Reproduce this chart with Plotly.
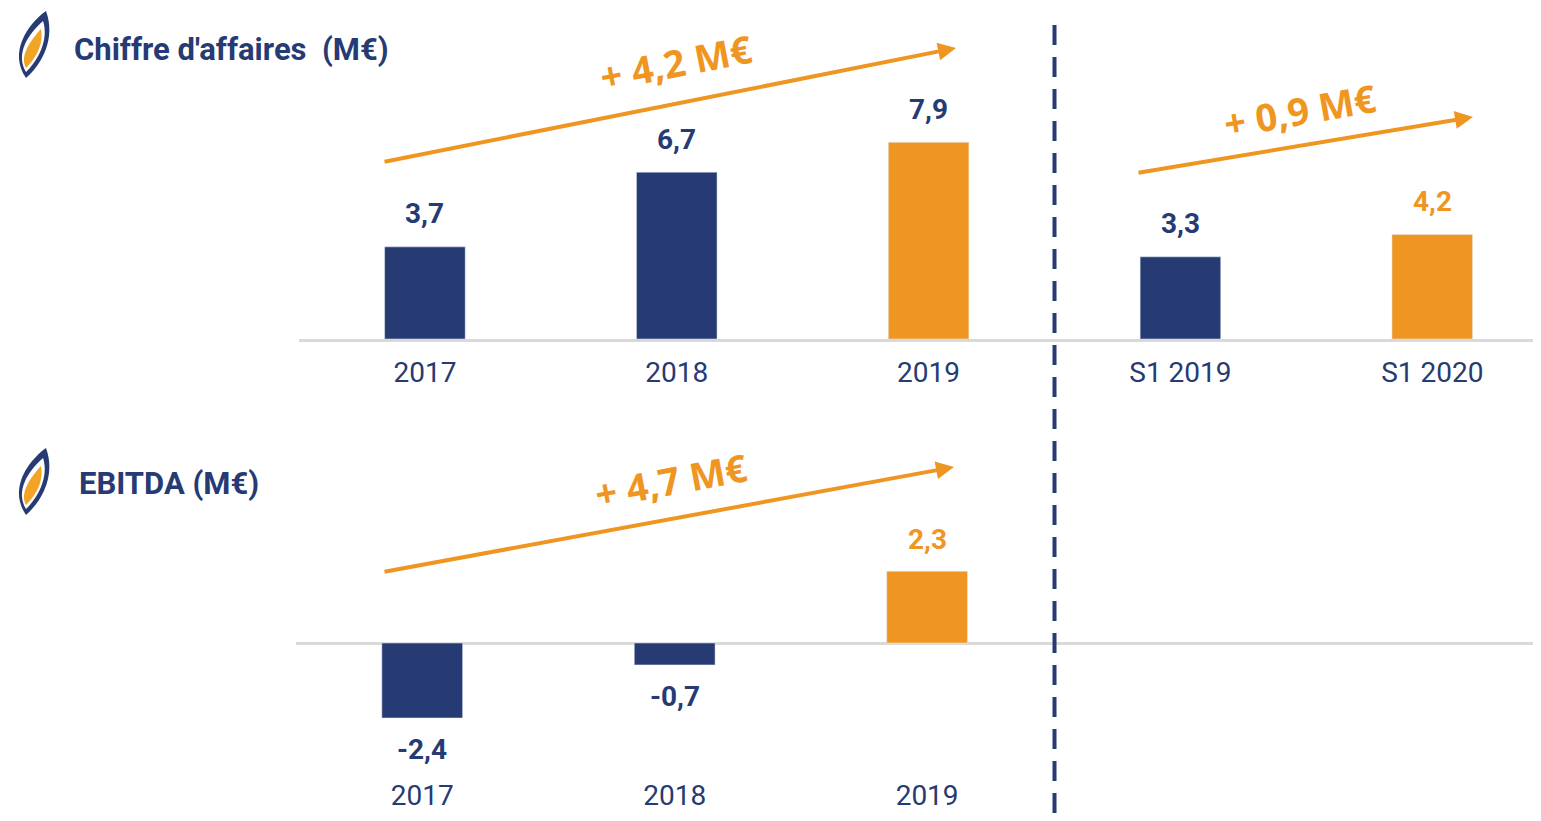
import plotly.graph_objects as go

# data
ca_categories = ['2017', '2018', '2019', 'S1 2019', 'S1 2020']
ca_values = [3.7, 6.7, 7.9, 3.3, 4.2]
ca_labels = ['3,7', '6,7', '7,9', '3,3', '4,2']

ebitda_categories = ['2017', '2018', '2019']
ebitda_values = [-2.4, -0.7, 2.3]
ebitda_labels = ['-2,4', '-0,7', '2,3']

NAVY = '#263A73'
ORANGE = '#EF9622'

# the page body has an 8px margin, so the figure is a bit smaller than the window
# (nothing may stick out below it, or the page grows)
OFF = 8
W, H = 1541 - 2 * OFF, 821 - 2 * OFF

ca_bar_colors = [NAVY, NAVY, ORANGE, NAVY, ORANGE]
ca_label_colors = [NAVY, NAVY, NAVY, NAVY, ORANGE]
ebitda_bar_colors = [NAVY, NAVY, ORANGE]
ebitda_label_colors = [NAVY, NAVY, ORANGE]


def px_x(x):
    return (x - OFF) / W


def px_y(y):
    return 1 - (y - OFF) / H


fig = go.Figure()

fig.add_trace(go.Bar(
    x=ca_categories, y=ca_values, marker_color=ca_bar_colors,
    width=0.32, xaxis='x', yaxis='y', hoverinfo='skip',
))
fig.add_trace(go.Bar(
    x=ebitda_categories, y=ebitda_values, marker_color=ebitda_bar_colors,
    width=0.32, xaxis='x2', yaxis='y2', hoverinfo='skip',
))

label_font = dict(family='Roboto', size=28, weight='bold')

annotations = []
# category positions are given as indexes: '2017' would be read as a number
for i, (val, lab, col) in enumerate(zip(ca_values, ca_labels, ca_label_colors)):
    annotations.append(dict(
        x=i, y=val, xref='x', yref='y', text=lab, showarrow=False,
        xanchor='center', yanchor='middle', yshift=33,
        font=dict(label_font, color=col),
    ))
for i, (val, lab, col) in enumerate(zip(ebitda_values, ebitda_labels, ebitda_label_colors)):
    annotations.append(dict(
        x=i, y=val, xref='x2', yref='y2', text=lab, showarrow=False,
        xanchor='center', yanchor='middle',
        yshift=32 if val > 0 else -32,
        font=dict(label_font, color=col),
    ))

# titles
annotations.append(dict(
    x=px_x(72), y=px_y(49), xref='paper', yref='paper',
    xanchor='left', yanchor='middle',
    text="Chiffre d'affaires&nbsp; (M€)", showarrow=False,
    font=dict(family='Roboto', size=31, color=NAVY, weight='bold'),
))
annotations.append(dict(
    x=px_x(77), y=px_y(483), xref='paper', yref='paper',
    xanchor='left', yanchor='middle',
    text='EBITDA (M€)', showarrow=False,
    font=dict(family='Roboto', size=31, color=NAVY, weight='bold'),
))

# growth arrows
arrows = [
    ((383, 162), (956, 48), '+ 4,2 M€', (676, 62), -11),
    ((1137, 173), (1473, 117), '+ 0,9 M€', (1300, 110), -10),
    ((383, 572), (954, 467), '+ 4,7 M€', (671, 480), -10.5),
]
for (x0, y0), (x1, y1), txt, (tx, ty), ang in arrows:
    annotations.append(dict(
        x=px_x(x1), y=px_y(y1), xref='paper', yref='paper',
        ax=x0 - x1, ay=y0 - y1, text='', showarrow=True,
        arrowhead=2, arrowsize=0.9, arrowwidth=4, arrowcolor=ORANGE, standoff=0,
    ))
    annotations.append(dict(
        x=px_x(tx), y=px_y(ty), xref='paper', yref='paper', text=txt,
        xanchor='center', yanchor='middle',
        showarrow=False, textangle=ang,
        font=dict(family='Open Sans', size=38, color=ORANGE, weight='bold'),
    ))


def leaf_path(points):
    (sx, sy), c1, c2 = points[0], points[1:4], points[4:7]
    p = f'M {px_x(sx):.4f} {px_y(sy):.4f} '
    p += 'C ' + ', '.join(f'{px_x(a):.4f} {px_y(b):.4f}' for a, b in c1) + ' '
    p += 'C ' + ', '.join(f'{px_x(a):.4f} {px_y(b):.4f}' for a, b in c2) + ' Z'
    return p


shapes = [
    # divider
    dict(type='line', xref='x', yref='paper', x0=2.5, x1=2.5, y0=0, y1=px_y(20),
         line=dict(color=NAVY, width=4, dash='20px,12px')),
]
for oy in (0, 437):
    shapes.append(dict(type='path', xref='paper', yref='paper', line=dict(width=0),
                       fillcolor=NAVY, path=leaf_path([
                           (46, 11 + oy), (28, 24 + oy), (8, 52 + oy), (26, 78 + oy),
                           (42, 64 + oy), (56, 38 + oy), (46, 11 + oy)])))
    shapes.append(dict(type='path', xref='paper', yref='paper', line=dict(width=0),
                       fillcolor='white', path=leaf_path([
                           (43, 21 + oy), (28, 34 + oy), (15, 54 + oy), (26, 72 + oy),
                           (38, 60 + oy), (49, 40 + oy), (43, 21 + oy)])))
    shapes.append(dict(type='path', xref='paper', yref='paper', line=dict(width=0),
                       fillcolor='#F2A427', path=leaf_path([
                           (41, 29 + oy), (31, 40 + oy), (19, 56 + oy), (26, 68 + oy),
                           (36, 58 + oy), (44, 44 + oy), (41, 29 + oy)])))

tick_font = dict(family='Roboto', size=28, color=NAVY)

fig.update_layout(
    width=W, height=H,
    margin=dict(l=0, r=0, t=0, b=0),
    paper_bgcolor='white', plot_bgcolor='rgba(0,0,0,0)',
    showlegend=False,
    annotations=annotations,
    shapes=shapes,
    xaxis=dict(domain=[px_x(299), 1], range=[-0.5, 4.40], type='category',
               categoryorder='array', categoryarray=ca_categories,
               showline=True, linecolor='#D9D9D9', linewidth=3, showgrid=False,
               ticks='', tickfont=tick_font, anchor='y', ticklabelstandoff=6),
    yaxis=dict(domain=[px_y(339), px_y(90)], range=[0, 10], visible=False),
    xaxis2=dict(domain=[px_x(296), 1], range=[-0.5, 4.40], type='category',
                categoryorder='array', categoryarray=ebitda_categories,
                showline=False, showgrid=False, ticks='', tickfont=tick_font,
                anchor='y2', ticklabelstandoff=4),
    yaxis2=dict(domain=[px_y(772), px_y(480)], range=[-4.13, 5.22],
                showgrid=False, showticklabels=False, ticks='',
                zeroline=True, zerolinecolor='#D9D9D9', zerolinewidth=3),
)

fig.write_html('out.html')
